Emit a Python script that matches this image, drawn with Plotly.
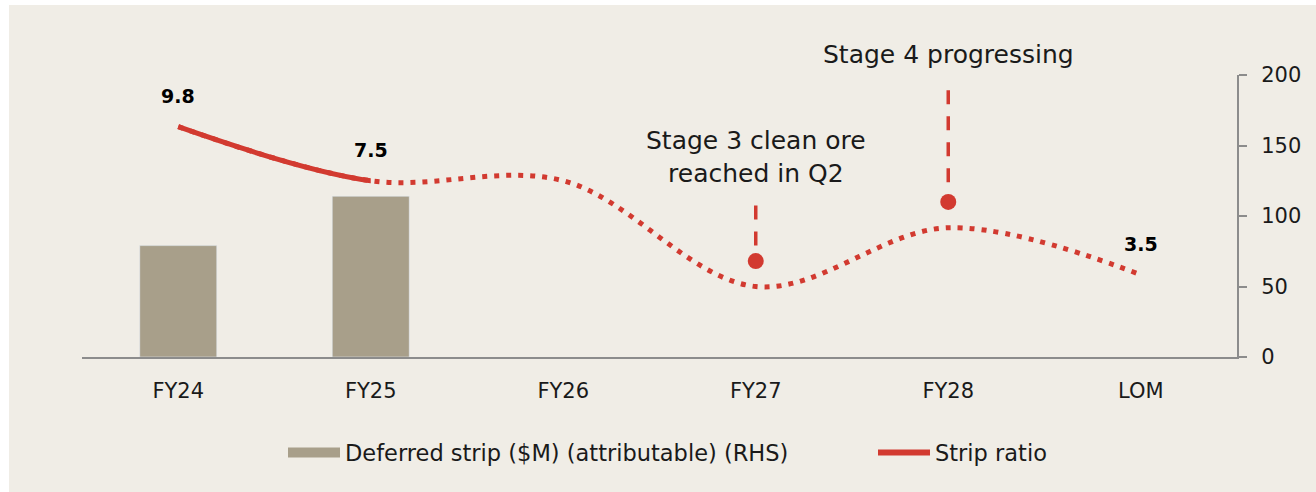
import plotly.graph_objects as go

# ---------------- data ----------------
categories = ["FY24", "FY25", "FY26", "FY27", "FY28", "LOM"]
deferred_strip = [79, 114, None, None, None, None]          # $M, RHS axis
strip_ratio = [9.8, 7.5, 7.5, 3.0, 5.5, 3.5]                # hidden LHS axis
strip_ratio_labelled = ["FY24", "FY25", "LOM"]
solid_until = "FY25"                                        # actuals drawn solid

callout_cats = ["FY27", "FY28"]
callout_marker = [68, 110]          # RHS-axis units
callout_line_bottom = [79, 124]
callout_line_top = [110, 194]
callout_text = ["Stage 3 clean ore<br>reached in Q2", "Stage 4 progressing"]

bar_name = "Deferred strip ($M) (attributable) (RHS)"
line_name = "Strip ratio"

# ---------------- style ----------------
W, H = 1316, 492
L, R, T, B = 82, 79, 75, 135
PW, PH = W - L - R, H - T - B
RED = "#D23A30"
BAR = "#A89F8A"
BG = "#F0EDE6"
AX = "#8C8C8C"
TXT = "#1A1A1A"
FONT = "DejaVu Sans"

n = len(categories)
solid_idx = categories.index(solid_until)
solid_frac = (solid_idx + 0.5) / n

fig = go.Figure()

fig.add_trace(go.Bar(
    x=categories, y=deferred_strip, marker_color=BAR, width=0.4,
    xaxis="x", yaxis="y", showlegend=False, hoverinfo="skip"))

# forecast (dotted) full curve
fig.add_trace(go.Scatter(
    x=categories, y=strip_ratio, mode="lines",
    line=dict(color=RED, width=5, dash="5px,7px", shape="spline"),
    xaxis="x", yaxis="y2", showlegend=False))

# actual (solid) part: same curve, clipped by a narrower x-domain subplot
fig.add_trace(go.Scatter(
    x=categories, y=strip_ratio, mode="lines",
    line=dict(color=RED, width=5, shape="spline"),
    xaxis="x3", yaxis="y3", showlegend=False))

# callout markers
fig.add_trace(go.Scatter(
    x=callout_cats, y=callout_marker, mode="markers",
    marker=dict(color=RED, size=16), xaxis="x", yaxis="y", showlegend=False))

# legend entries
fig.add_trace(go.Scatter(
    x=[None], y=[None], mode="lines", line=dict(color=BAR, width=13),
    name=bar_name, legend="legend"))
fig.add_trace(go.Scatter(
    x=[None], y=[None], mode="lines", line=dict(color=RED, width=6),
    name=line_name, legend="legend2"))

shapes = [dict(type="rect", xref="paper", yref="paper",
               x0=-(L - 9) / PW, x1=1 + R / PW, y0=-B / PH, y1=1 + (T - 5) / PH,
               fillcolor=BG, line=dict(width=0), layer="below")]
annotations = []
for c, lo, hi, txt in zip(callout_cats, callout_line_bottom, callout_line_top, callout_text):
    i = categories.index(c)
    shapes.append(dict(type="line", xref="x", yref="y", x0=i, x1=i, y0=lo, y1=hi,
                       line=dict(color=RED, width=3.5, dash="14px,12px")))
    annotations.append(dict(x=i, y=hi, xref="x", yref="y", text=txt, showarrow=False,
                            yanchor="bottom", yshift=12,
                            font=dict(family=FONT, size=25, color=TXT)))

for c in strip_ratio_labelled:
    i = categories.index(c)
    annotations.append(dict(x=i, y=strip_ratio[i], xref="x", yref="y2",
                            text=f"<b>{strip_ratio[i]:.1f}</b>", showarrow=False,
                            yshift=31, font=dict(family=FONT, size=19, color="#000")))

leg_common = dict(orientation="h", y=-0.34, yanchor="middle", xanchor="left",
                  bgcolor="rgba(0,0,0,0)", borderwidth=0, itemwidth=52,
                  font=dict(family=FONT, size=22.5, color=TXT))

fig.update_layout(
    width=W, height=H,
    margin=dict(l=L, r=R, t=T, b=B, pad=0),
    paper_bgcolor="white", plot_bgcolor="rgba(0,0,0,0)",
    font=dict(family=FONT, size=21, color=TXT),
    xaxis=dict(type="category", categoryorder="array", categoryarray=categories,
               range=[-0.5, n - 0.5], domain=[0, 1], anchor="y",
               showline=True, linecolor=AX, linewidth=2, showgrid=False, zeroline=False,
               ticks="outside", ticklen=14, tickcolor="rgba(0,0,0,0)",
               tickfont=dict(family=FONT, size=21, color=TXT)),
    xaxis3=dict(type="category", categoryorder="array", categoryarray=categories,
                range=[-0.5, solid_idx], domain=[0, solid_frac], anchor="y3",
                visible=False),
    yaxis=dict(side="right", range=[0, 200], tickvals=[0, 50, 100, 150, 200],
               anchor="x",
               showline=True, linecolor=AX, linewidth=2, showgrid=False, zeroline=False,
               ticks="outside", ticklen=8, tickwidth=2, tickcolor=AX,
               ticklabelstandoff=10,
               tickfont=dict(family=FONT, size=21, color=TXT)),
    yaxis2=dict(range=[0, 12], overlaying="y", visible=False),
    yaxis3=dict(range=[0, 12], domain=[0, 1], anchor="x3", visible=False),
    legend=dict(x=(288 - 5 - L) / PW, **leg_common),
    legend2=dict(x=(878 - 5 - L) / PW, **leg_common),
    shapes=shapes, annotations=annotations,
)

fig.write_html("out.html", config={"displayModeBar": False},
               post_script="document.body.style.margin='0px';")
